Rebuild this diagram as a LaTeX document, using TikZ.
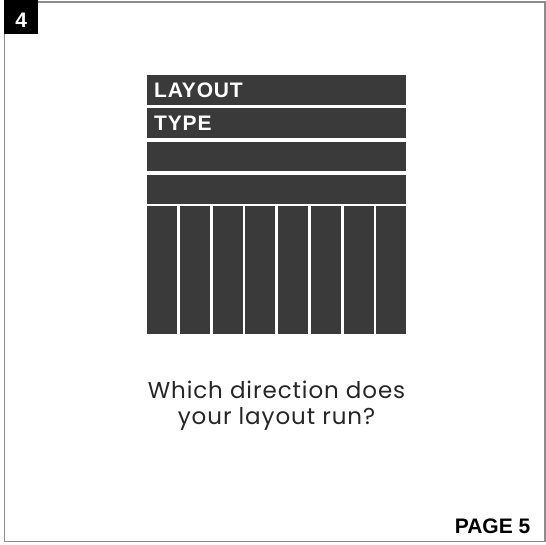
\documentclass[tikz,border=0pt]{standalone}
\usepackage{fontspec}
\setmainfont{Liberation Sans}
\newfontfamily\askfont{Poppins}[LetterSpace=4]
\usepackage{tikz}
\usetikzlibrary{positioning}
\usepackage{xcolor}
\definecolor{barfill}{RGB}{58,58,58}
\definecolor{framegray}{RGB}{140,140,140}

\begin{document}
\begin{tikzpicture}[x=1pt, y=-1pt,
  bar/.style={fill=barfill, text=white, text width=245pt, inner xsep=7pt,
              inner ysep=0pt, minimum height=29.5pt, text height=15pt,
              text depth=0pt, align=left, anchor=north west,
              font=\bfseries\fontsize{21}{21}\selectfont\addfontfeatures{LetterSpace=4}},
  col/.style={fill=barfill, minimum width=30pt, minimum height=128pt,
              inner sep=0pt, anchor=north west}]
  \useasboundingbox (0,0) rectangle (546,544);
  % Page frame
  \draw[framegray, line width=1.4pt] (4.5,2) rectangle (545,541.5);
  % Step tab (top left)
  \node[fill=black, text=white, minimum width=34pt, minimum height=34pt,
        inner sep=0pt, text height=20.6pt, text depth=0pt, anchor=north west,
        font=\bfseries\fontsize{21}{21}\selectfont] (tab) at (4,0) {4};
  % Header bars
  \node[bar] (layout) at (147,75) {LAYOUT};
  \node[bar, below=3.3pt of layout] (type) {TYPE};
  \node[bar, below=3.3pt of type] (row3) {};
  \node[bar, below=3.3pt of row3] (row4) {};
  % Columns
  \foreach \i in {0,...,7}
    \node[col] (col\i) at (147+\i*32.75, 206.2) {};
  % Question
  \node[font=\askfont\fontsize{23}{26}\selectfont, text=black!85,
        align=center] (ask) at (276.5,406) {Which direction does\\your layout run?};
  % Page number
  \node[anchor=base east, inner sep=0pt,
        font=\bfseries\fontsize{21}{21}\selectfont] (page) at (530.5,533.3) {PAGE 5};
\end{tikzpicture}
\end{document}
